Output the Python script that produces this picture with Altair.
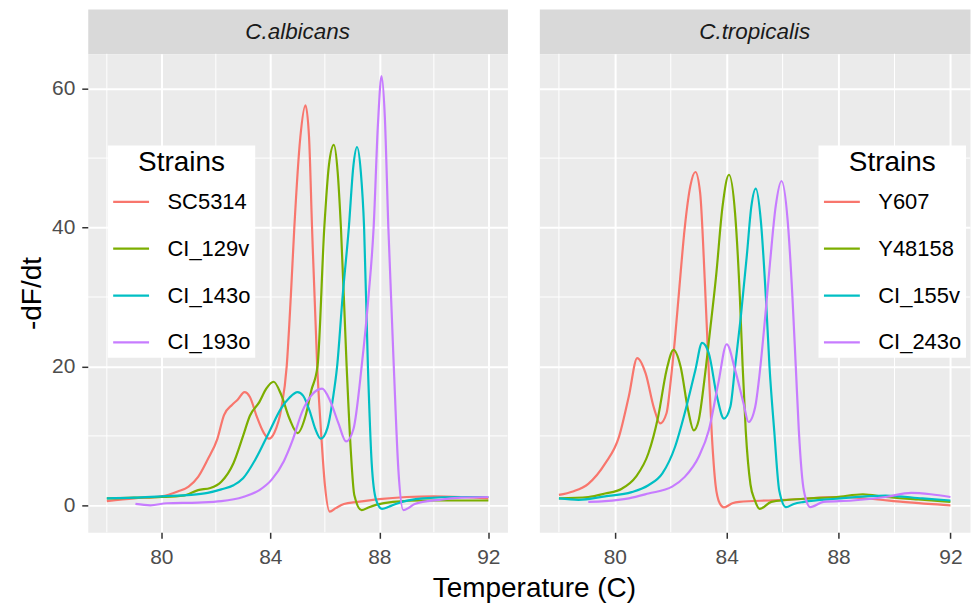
import altair as alt
import pandas as pd

# ---------------- data ----------------
panels = ["C.albicans", "C.tropicalis"]
alb_strains = ["SC5314", "CI_129v", "CI_143o", "CI_193o"]
tro_strains = ["Y607", "Y48158", "CI_155v", "CI_243o"]
hue4 = ["#F8766D", "#7CAE00", "#00BFC4", "#C77CFF"]

x_major = [80, 84, 88, 92]
x_minor = [78, 82, 86, 90]
y_major = [0, 20, 40, 60]
y_minor = [10, 30, 50]
x_domain = [77.3, 92.7]
y_domain = [-3.88, 65.02]

# C.albicans
sc5314_t = [78.0, 79.0, 80.0, 80.6, 81.0, 81.35, 81.7, 82.05, 82.3, 82.6, 82.8, 83.05, 83.25, 83.5, 83.75, 83.95,
            84.15, 84.4, 84.6, 84.75, 84.88, 85.1, 85.29, 85.42, 85.53, 85.72, 85.87, 86.0, 86.18, 86.4, 86.7, 87.2,
            88.0, 89.0, 90.0, 91.0, 92.0]
sc5314_v = [0.6, 1.0, 1.3, 2.0, 2.7, 4.1, 6.6, 9.5, 13.0, 14.5, 15.2, 16.3, 15.6, 12.8, 10.5, 9.6,
            10.5, 13.9, 20.0, 30.0, 40.0, 53.0, 57.6, 53.0, 40.0, 20.0, 10.0, 3.0, -0.9, -0.4, 0.2, 0.5,
            0.9, 1.2, 1.3, 1.2, 1.0]

ci129v_t = [78.0, 79.0, 80.0, 80.8, 81.35, 81.8, 82.2, 82.65, 83.0, 83.25, 83.6, 83.85, 84.12, 84.4, 84.7, 85.0,
            85.3, 85.5, 85.73, 85.98, 86.15, 86.33, 86.47, 86.59, 86.8, 86.95, 87.08, 87.35, 87.6, 87.9, 88.5,
            89.6, 91.0, 92.0]
ci129v_v = [1.0, 1.1, 1.2, 1.4, 2.2, 2.5, 3.4, 6.1, 10.0, 12.9, 14.9, 16.8, 17.8, 15.9, 12.5, 10.4,
            13.0, 16.5, 20.0, 40.0, 49.0, 51.9, 48.0, 40.0, 20.0, 8.0, 1.5, -0.7, -0.3, 0.1, 0.5,
            0.7, 0.7, 0.7]

ci143o_t = [78.0, 79.0, 80.0, 81.1, 81.7, 82.2, 82.65, 83.0, 83.45, 83.95, 84.4, 84.7, 85.0, 85.2, 85.45, 85.65,
            85.85, 86.1, 86.3, 86.45, 86.65, 86.88, 87.05, 87.18, 87.32, 87.44, 87.58, 87.72, 87.88, 88.1, 88.35,
            88.6, 89.6, 91.0, 92.0]
ci143o_v = [1.0, 1.1, 1.3, 1.5, 1.8, 2.3, 2.9, 3.9, 6.6, 10.5, 14.0, 15.5, 16.3, 15.8, 13.5, 11.0,
            9.6, 11.2, 15.5, 20.0, 30.0, 40.0, 49.0, 51.6, 48.0, 40.0, 20.0, 6.0, 0.8, -0.5, -0.2,
            0.2, 1.0, 1.2, 1.2]

ci193o_t = [79.05, 79.6, 80.2, 81.35, 82.2, 83.0, 83.6, 84.05, 84.5, 84.8, 85.18, 85.5, 85.9, 86.2, 86.5, 86.78,
            87.05, 87.35, 87.6, 87.79, 87.95, 88.08, 88.2, 88.33, 88.53, 88.7, 88.88, 89.1, 89.3, 90.2, 91.0, 92.0]
ci193o_v = [0.2, 0.0, 0.3, 0.4, 0.6, 1.2, 2.2, 3.7, 6.4, 9.2, 13.6, 15.8, 16.8, 15.0, 11.8, 9.2,
            11.0, 20.0, 30.0, 40.0, 55.0, 61.8, 56.0, 40.0, 20.0, 5.0, -0.7, -0.3, 0.2, 0.8, 1.1, 1.2]

# C.tropicalis
y607_t = [78.0, 78.5, 79.05, 79.65, 80.15, 80.5, 80.8, 81.1, 81.4, 81.62, 81.85, 82.0, 82.15, 82.3, 82.5, 82.7,
          82.88, 83.05, 83.22, 83.35, 83.47, 83.6, 83.75, 83.9, 84.2, 84.45, 85.5, 86.2, 87.9, 89.1, 90.3,
          91.2, 92.0]
y607_v = [1.5, 2.0, 3.1, 6.0, 9.9, 15.7, 21.2, 19.0, 14.0, 11.8, 13.3, 18.0, 24.0, 31.0, 40.0, 46.0,
          48.0, 45.0, 32.0, 20.0, 10.0, 3.0, 0.3, -0.3, 0.3, 0.5, 0.7, 0.8, 1.2, 0.95, 0.5,
          0.2, 0.0]

y48158_t = [78.0, 79.05, 79.65, 80.25, 80.75, 81.2, 81.55, 81.85, 82.1, 82.35, 82.62, 82.82, 83.0, 83.2, 83.4,
            83.62, 83.85, 84.08, 84.3, 84.47, 84.57, 84.68, 84.85, 85.0, 85.18, 85.6, 86.76, 87.93, 88.87, 89.68,
            90.85, 92.0]
y48158_v = [1.0, 1.2, 1.7, 2.4, 4.1, 7.5, 12.8, 19.5, 22.4, 20.0, 13.7, 10.8, 12.3, 18.0, 25.0,
            33.0, 43.0, 47.6, 42.0, 30.0, 20.0, 10.8, 3.0, 0.8, -0.5, 0.5, 0.95, 1.2, 1.6, 1.2,
            0.86, 0.5]

ci155v_t = [78.0, 78.7, 79.65, 80.6, 81.2, 81.7, 82.15, 82.5, 82.88, 83.12, 83.36, 83.65, 83.9, 84.13, 84.3,
            84.5, 84.72, 84.88, 85.04, 85.22, 85.4, 85.53, 85.7, 85.88, 86.12, 86.4, 86.76, 87.93, 89.68, 91.0,
            92.0]
ci155v_v = [1.0, 0.8, 1.3, 1.9, 2.9, 4.6, 8.4, 13.3, 19.5, 23.4, 21.9, 15.7, 12.5, 14.2, 20.0,
            27.0, 36.0, 43.0, 45.6, 41.0, 30.0, 20.0, 10.7, 2.1, -0.25, 0.2, 0.5, 0.95, 1.4, 1.0,
            0.7]

ci243o_t = [79.05, 79.65, 80.5, 81.2, 82.05, 82.5, 83.0, 83.36, 83.7, 84.0, 84.3, 84.6, 84.78, 85.02, 85.15,
            85.35, 85.55, 85.75, 85.96, 86.18, 86.35, 86.47, 86.58, 86.76, 86.99, 87.46, 88.5, 89.68, 90.6, 91.3,
            92.0]
ci243o_v = [0.5, 0.6, 1.0, 1.7, 2.7, 4.1, 7.0, 10.8, 17.6, 23.2, 19.5, 14.7, 12.0, 14.2, 18.0,
            26.0, 35.0, 43.0, 46.7, 41.0, 30.0, 20.0, 10.7, 2.1, -0.25, 0.5, 0.7, 1.2, 1.8, 1.6,
            1.2]

alb_series = [(sc5314_t, sc5314_v), (ci129v_t, ci129v_v), (ci143o_t, ci143o_v), (ci193o_t, ci193o_v)]
tro_series = [(y607_t, y607_v), (y48158_t, y48158_v), (ci155v_t, ci155v_v), (ci243o_t, ci243o_v)]


def to_frame(strains, series):
    rows = []
    for name, (ts, vs) in zip(strains, series):
        for t, v in zip(ts, vs):
            rows.append({"strain": name, "temp": t, "value": v})
    return pd.DataFrame(rows)


FONT = "Liberation Sans"
PLOT_H = 480
STRIP_H = 45
W_LEFT = 421
W_RIGHT = 432

xs = alt.Scale(domain=x_domain, nice=False, zero=False)
ys = alt.Scale(domain=y_domain, nice=False, zero=False)


def make_panel(df, strains, width, first, legend_x):
    x_axis = alt.Axis(values=x_major, grid=True, gridColor="white", gridWidth=2, domain=False,
                      tickColor="#333333", tickWidth=1.5, tickSize=6, labelFontSize=21,
                      labelColor="#4D4D4D", labelPadding=8, title=None)
    if first:
        y_axis = alt.Axis(values=y_major, grid=True, gridColor="white", gridWidth=2, domain=False,
                          tickColor="#333333", tickWidth=1.5, tickSize=6, labelFontSize=21,
                          labelColor="#4D4D4D", labelPadding=7, title="-dF/dt", titleFontSize=28,
                          titleFontWeight="normal", titleColor="black", titlePadding=5)
    else:
        y_axis = alt.Axis(values=y_major, grid=True, gridColor="white", gridWidth=2, domain=False,
                          ticks=False, labels=False, title=None)

    minor_x = alt.Chart(pd.DataFrame({"temp": x_minor})).mark_rule(color="white", strokeWidth=1).encode(
        x=alt.X("temp:Q", scale=xs, axis=x_axis))
    minor_y = alt.Chart(pd.DataFrame({"value": y_minor})).mark_rule(color="white", strokeWidth=1).encode(
        y=alt.Y("value:Q", scale=ys, axis=y_axis))
    lines = alt.Chart(df).mark_line(strokeWidth=2.2, interpolate="monotone", clip=True).encode(
        x=alt.X("temp:Q", scale=xs, axis=x_axis),
        y=alt.Y("value:Q", scale=ys, axis=y_axis),
        color=alt.Color("strain:N", sort=strains,
                        scale=alt.Scale(domain=strains, range=hue4),
                        legend=alt.Legend(title="Strains", orient="none", legendX=legend_x, legendY=137,
                                          direction="vertical", fillColor="white", padding=4,
                                          titleFontSize=28, titleFontWeight="normal", titleColor="black",
                                          titleAnchor="middle", titlePadding=5, titleFont=FONT,
                                          labelFontSize=22, labelColor="black", labelFont=FONT,
                                          symbolType="stroke", symbolSize=1296, symbolStrokeWidth=2.2,
                                          labelOffset=17, rowPadding=16)),
    )
    return alt.layer(minor_x, minor_y, lines).properties(
        width=width, height=PLOT_H,
        view=alt.ViewBackground(fill="#EBEBEB", strokeOpacity=0))


def make_strip(name, width):
    return alt.Chart(pd.DataFrame({"label": [name]})).mark_text(
        font=FONT, fontSize=22.5, fontStyle="italic", color="#1A1A1A", align="center", baseline="middle"
    ).encode(
        text="label:N", x=alt.value(width / 2), y=alt.value(STRIP_H / 2 + 1)
    ).properties(width=width, height=STRIP_H,
                 view=alt.ViewBackground(fill="#D9D9D9", strokeOpacity=0))


df_alb = to_frame(alb_strains, alb_series)
df_tro = to_frame(tro_strains, tro_series)

left = alt.vconcat(make_strip(panels[0], W_LEFT), make_panel(df_alb, alb_strains, W_LEFT, True, 20),
                   spacing=0, bounds="flush")
right = alt.vconcat(make_strip(panels[1], W_RIGHT), make_panel(df_tro, tro_strains, W_RIGHT, False, 280),
                    spacing=0, bounds="flush")

chart = alt.hconcat(left, right, spacing=30).resolve_scale(
    color="independent"
).properties(
    title=alt.TitleParams("Temperature (C)", orient="bottom", anchor="middle", frame="bounds",
                          fontSize=28, fontWeight="normal", color="black", font=FONT,
                          baseline="alphabetic", offset=30, dx=40),
    padding={"left": 10, "top": 0, "right": 0, "bottom": 0},
    background="white",
).configure(font=FONT).configure_view(strokeOpacity=0)

chart.save("out.html", embed_options={"renderer": "svg", "actions": False})
